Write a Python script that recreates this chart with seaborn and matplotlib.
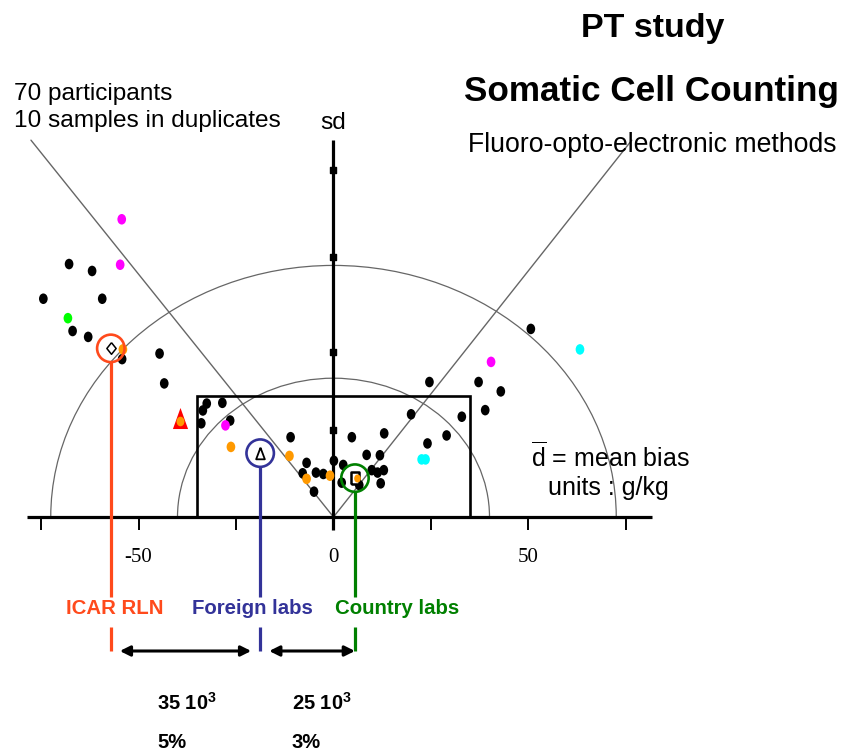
import numpy as np
import pandas as pd
import matplotlib
matplotlib.use("Agg")
import matplotlib.pyplot as plt
import seaborn as sns
from matplotlib.path import Path
from matplotlib.patches import Arc, Rectangle
from matplotlib.transforms import Affine2D

# ---------------- data (mean bias d, standard deviation sd; g/kg) ----------------
black_d = [-67.8, -61.9, -74.4, -59.3, -66.9, -62.9, -54.2, -44.6, -43.4, -32.5,
           -28.5, -33.5, -33.9, -26.5, -11.0, -6.9, -7.9, -4.5, -2.6, -5.0,
           0.1, 4.7, 2.5, 2.1, 6.6, 8.5, 9.8, 11.3, 12.9, 12.1,
           11.9, 13.0, 19.9, 24.1, 29.0, 32.9, 24.6, 37.2, 42.9, 38.9, 50.6]
black_sd = [72.9, 70.9, 62.9, 62.9, 53.6, 51.9, 45.5, 47.1, 38.5, 32.7,
            32.9, 30.7, 27.0, 27.8, 23.0, 15.6, 12.6, 12.8, 12.4, 7.3,
            16.2, 23.0, 15.0, 9.9, 9.2, 17.9, 13.5, 12.8, 13.5, 9.7,
            17.8, 24.1, 29.6, 21.2, 23.5, 28.9, 38.9, 38.9, 36.2, 30.8, 54.2]
magenta_d = [-54.3, -54.7, -27.7, 40.4]
magenta_sd = [85.8, 72.7, 26.4, 44.7]
green_d = [-68.1]
green_sd = [57.3]
orange_d = [-54.0, -26.3, -11.3, -6.9, -0.9]
orange_sd = [48.3, 20.2, 17.6, 11.0, 11.9]
cyan_d = [63.2, 22.6, 23.6]
cyan_sd = [48.3, 16.6, 16.6]
ref_tri_d = [-39.4]
ref_tri_sd = [28.4]

labs = ["ICAR RLN", "Foreign labs", "Country labs"]
lab_d = [-57.1, -18.8, 5.5]
lab_sd = [48.6, 18.4, 11.2]
lab_colors = ["#FF4A1C", "#333399", "#008000"]

gap_values = [r"35 10$^{\mathbf{3}}$", r"25 10$^{\mathbf{3}}$"]
gap_pct = ["5%", "3%"]

x_ticks = [-75, -50, -25, 0, 25, 50, 75]
x_ticklabels = [-50, 0, 50]
y_ticks = [25, 47.5, 75, 100]
arc_radii = [40, 72.5]
box_half = 35
diag_slopes = [1.40, 1.42]
sd_top = 108.6
x_axis_ends = [-78.7, 81.7]

# ---------------- frame: one axes covering the figure ----------------
X0, SX, Y0, SY = 333.5, 3.9, 517.0, 3.47
def dx(px):
    return (px - X0) / SX
def dy(py):
    return (Y0 - py) / SY

sns.set_style("white")
plt.rcParams["font.family"] = ["Liberation Sans", "DejaVu Sans"]
plt.rcParams["text.color"] = "black"
plt.rcParams["mathtext.fontset"] = "custom"
plt.rcParams["mathtext.rm"] = "Liberation Sans"
plt.rcParams["mathtext.bf"] = "Liberation Sans:bold"

fig = plt.figure(figsize=(8.45, 7.52), dpi=100)
ax = fig.add_axes([0, 0, 1, 1])
ax.set_xlim(dx(0), dx(845))
ax.set_ylim(dy(752), dy(0))
ax.axis("off")

guide = "#666666"
# semicircles
for r in arc_radii:
    ax.add_patch(Arc((0, 0), 2 * r, 2 * r, theta1=0, theta2=180,
                     color=guide, lw=0.9, zorder=1))
# diagonal lines
ax.plot([0, -sd_top / diag_slopes[0]], [0, sd_top], color=guide, lw=1.0, zorder=1)
ax.plot([0, sd_top / diag_slopes[1]], [0, sd_top], color=guide, lw=1.0, zorder=1)
# box
ax.add_patch(Rectangle((-box_half, 0), 2 * box_half, box_half, fill=False,
                       ec="black", lw=1.9, zorder=2))
# axes
ax.plot(x_axis_ends, [0, 0], color="black", lw=2.3, zorder=2, solid_capstyle="butt")
ax.vlines(x_ticks, dy(530), 0, color="black", lw=1.4, zorder=2)
ax.plot([0, 0], [dy(530), sd_top], color="black", lw=2.3, zorder=2, solid_capstyle="butt")
ax.scatter([0] * len(y_ticks), y_ticks, marker="s", s=20, color="black", zorder=2)
for t in x_ticklabels:
    ax.text(t, dy(557), f"{t}", family=["Liberation Serif"], fontsize=15,
            ha="center", va="center", color="black")
ax.text(0, dy(129), "sd", fontsize=17.6, ha="center", va="baseline")

# ---------------- points ----------------
ell = Path.unit_circle().transformed(Affine2D().scale(0.82, 1.0))
groups = (["black"] * len(black_d) + ["magenta"] * len(magenta_d) + ["green"] * len(green_d)
          + ["orange"] * len(orange_d) + ["cyan"] * len(cyan_d))
df = pd.DataFrame({
    "d": black_d + magenta_d + green_d + orange_d + cyan_d,
    "sd": black_sd + magenta_sd + green_sd + orange_sd + cyan_sd,
    "group": groups,
})
pal = {"black": "#000000", "magenta": "#FF00FF", "green": "#00FF00",
       "orange": "#FF9900", "cyan": "#00FFFF"}
sns.scatterplot(data=df, x="d", y="sd", hue="group", palette=pal, marker=ell,
                s=58, linewidth=0, legend=False, ax=ax, zorder=3)

# reference-lab triangle with orange dot
tri = Path([(0, 1), (-0.72, -1), (0.72, -1), (0, 1)])
ax.scatter(ref_tri_d, ref_tri_sd, marker=tri, s=230, color="#FF0000", lw=0, zorder=3)
ax.scatter(ref_tri_d, [v - 0.8 for v in ref_tri_sd], marker=ell, s=48, color="#FF9900",
           lw=0, zorder=4)

# lab summary markers
diam = Path([(0, 1), (0.8, 0), (0, -1), (-0.8, 0), (0, 1)])
otri = Path([(0, 1), (-0.75, -1), (0.75, -1), (0, 1)])
sq = Path([(-0.72, -1), (0.72, -1), (0.72, 1), (-0.72, 1), (-0.72, -1)])
ax.scatter(lab_d[0], lab_sd[0], marker=diam, s=70, facecolor="white", edgecolor="black",
           lw=1.1, zorder=4)
ax.scatter(lab_d[1], lab_sd[1], marker=otri, s=70, facecolor="white", edgecolor="black",
           lw=1.3, zorder=4)
ax.scatter(lab_d[2], lab_sd[2], marker=sq, s=70, facecolor="white", edgecolor="black",
           lw=1.8, zorder=4)
ax.scatter(lab_d[2] + 0.4, lab_sd[2], marker=ell, s=34, color="#FF9900", lw=0, zorder=5)

# circles and drop lines
r_units = 13.5 / SY
for d, s, c, name in zip(lab_d, lab_sd, lab_colors, labs):
    ax.scatter([d], [s], marker="o", s=390, facecolor="none", edgecolor=c, lw=1.9, zorder=6)
    ax.plot([d, d], [s - r_units, dy(597)], color=c, lw=2.3, zorder=6, solid_capstyle="butt")
    ax.plot([d, d], [dy(627), dy(651)], color=c, lw=2.3, zorder=6, solid_capstyle="butt")

label_x = [114.5, 252, 397.5]
for x, c, name in zip(label_x, lab_colors, labs):
    ax.text(dx(x), dy(609), name, color=c, fontsize=14.7, fontweight="bold",
            ha="center", va="center")

# arrows between labs
gap = 9 / SX
arrow_y = dy(651)
spans = [(lab_d[0] + gap, lab_d[1] - gap), (lab_d[1] + gap, lab_d[2])]
for (a, b) in spans:
    ax.annotate("", xy=(b, arrow_y), xytext=(a, arrow_y),
                arrowprops=dict(arrowstyle="<|-|>", color="black", lw=2.2,
                                mutation_scale=15, shrinkA=0, shrinkB=0))
text_x = [157, 292]
for x, v, p in zip(text_x, gap_values, gap_pct):
    ax.text(dx(x), dy(710), v, fontsize=14.5, fontweight="bold", ha="left", va="baseline")
    ax.text(dx(x), dy(748), p, fontsize=14.5, fontweight="bold", ha="left", va="baseline")

# ---------------- titles and notes ----------------
ax.text(dx(653), dy(37), "PT study", fontsize=24.5, fontweight="bold",
        ha="center", va="baseline")
ax.text(dx(651), dy(101.5), "Somatic Cell Counting", fontsize=25.3, fontweight="bold",
        ha="center", va="baseline")
ax.text(dx(652), dy(151.5), "Fluoro-opto-electronic methods", fontsize=19.2,
        ha="center", va="baseline")
ax.text(dx(13.5), dy(100), "70 participants", fontsize=17.6, ha="left", va="baseline")
ax.text(dx(13.5), dy(127), "10 samples in duplicates", fontsize=17.6, ha="left", va="baseline")
ax.text(dx(531), dy(467), r"$\overline{\mathrm{d}}$ = mean bias", fontsize=18,
        ha="left", va="baseline")
ax.text(dx(548), dy(495), "units : g/kg", fontsize=18, ha="left", va="baseline")

fig.savefig("out.png", dpi=100)
